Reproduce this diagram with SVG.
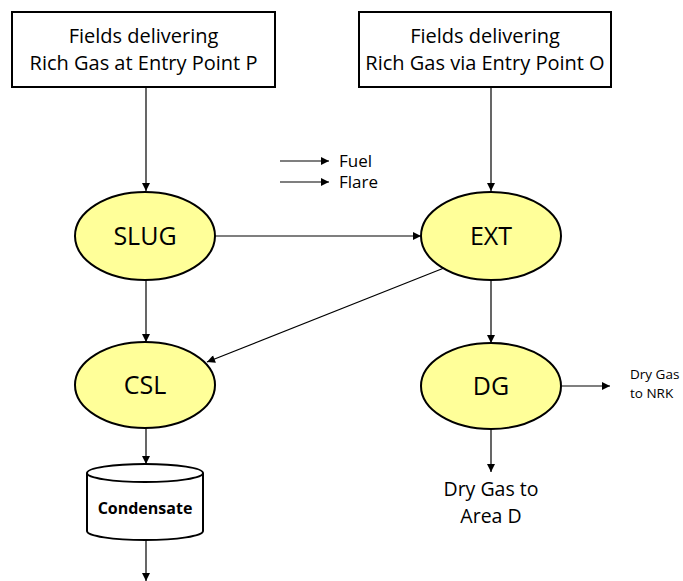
<svg xmlns="http://www.w3.org/2000/svg" width="683" height="581" viewBox="0 0 683 581">
<defs>
<marker id="ah" viewBox="0 0 10 10" refX="10" refY="5" markerWidth="9" markerHeight="8" markerUnits="userSpaceOnUse" orient="auto">
<path d="M0,0 L10,5 L0,10 z" fill="#000"/>
</marker>
</defs>
<style>
.box{fill:#fff;stroke:#000;stroke-width:2}
.ell{fill:#ffff99;stroke:#000;stroke-width:2}
.cyl{fill:#fff;stroke:#000;stroke-width:2}
.t{font-family:"Open Sans","Liberation Sans",sans-serif;fill:#000;text-anchor:middle}
.s{text-anchor:start}
.lbl{font-size:20px}
.node{font-size:25px}
.con{stroke:#000;stroke-width:1.2;fill:none;marker-end:url(#ah)}
</style>
<rect width="683" height="581" fill="#fff"/>
<g id="fieldsP">
<rect class="box" x="12" y="12" width="263" height="75"/>
<text class="t lbl" x="143.5" y="43">Fields delivering</text>
<text class="t lbl" x="143.5" y="70">Rich Gas at Entry Point P</text>
</g>
<g id="fieldsO">
<rect class="box" x="359" y="12" width="252" height="75"/>
<text class="t lbl" x="485" y="43">Fields delivering</text>
<text class="t lbl" x="485" y="70">Rich Gas via Entry Point O</text>
</g>
<g id="slug">
<ellipse class="ell" cx="145" cy="236" rx="70" ry="44"/>
<text class="t node" x="145" y="245">SLUG</text>
</g>
<g id="ext">
<ellipse class="ell" cx="491" cy="236" rx="70" ry="44"/>
<text class="t node" x="491" y="245">EXT</text>
</g>
<g id="csl">
<ellipse class="ell" cx="145" cy="385" rx="70" ry="43"/>
<text class="t node" x="145" y="394">CSL</text>
</g>
<g id="dg">
<ellipse class="ell" cx="491" cy="386" rx="70" ry="43"/>
<text class="t node" x="491" y="395">DG</text>
</g>
<g id="condensate">
<path class="cyl" d="M87,473 L87,531 A58,9 0 0 0 203,531 L203,473 A58,9 0 0 0 87,473 Z"/>
<path class="cyl" d="M87,473 A58,9 0 0 0 203,473" fill="none"/>
<text class="t" x="145" y="514" font-size="16" font-weight="bold">Condensate</text>
</g>
<g id="labels">
<text class="t s" x="339" y="167" font-size="17">Fuel</text>
<text class="t s" x="339" y="188" font-size="17">Flare</text>
<text class="t s" x="630" y="379" font-size="13.5">Dry Gas</text>
<text class="t s" x="630" y="398" font-size="13.5">to NRK</text>
<text class="t" x="491" y="496" font-size="19.5">Dry Gas to</text>
<text class="t" x="491" y="523" font-size="19.5">Area D</text>
</g>
<g id="connectors">
<line class="con" x1="146" y1="87" x2="146" y2="191"/>
<line class="con" x1="491" y1="87" x2="491" y2="191"/>
<line class="con" x1="215" y1="236" x2="421" y2="236"/>
<line class="con" x1="280" y1="161" x2="329" y2="161"/>
<line class="con" x1="280" y1="182" x2="329" y2="182"/>
<line class="con" x1="146" y1="280" x2="146" y2="342"/>
<line class="con" x1="444" y1="268" x2="207" y2="362"/>
<line class="con" x1="491" y1="280" x2="491" y2="343"/>
<line class="con" x1="146" y1="428" x2="146" y2="464"/>
<line class="con" x1="562" y1="386" x2="610" y2="386"/>
<line class="con" x1="491" y1="429" x2="491" y2="472"/>
<line class="con" x1="146" y1="540" x2="146" y2="581"/>
</g>
</svg>
